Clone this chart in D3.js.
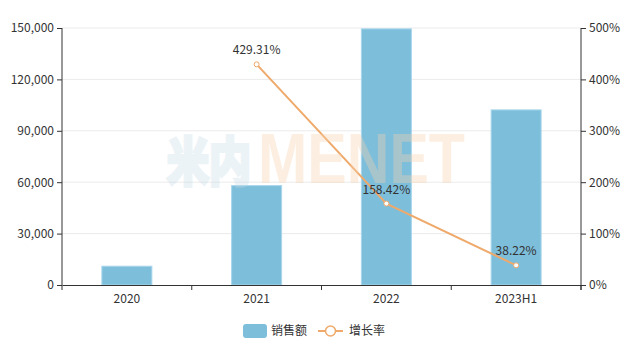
<!DOCTYPE html>
<html>
<head>
<meta charset="utf-8">
<script src="https://cdn.jsdelivr.net/npm/d3@7"></script>
<style>
  body { margin: 0; background: #fff; }
  svg { display: block; font-family: "Noto Sans CJK SC", "Noto Sans", sans-serif; }
</style>
</head>
<body>
<div id="chart"></div>
<script>
const categories = ["2020", "2021", "2022", "2023H1"];
const sales = [10960, 58010, 149500, 102200];
const growth = [null, 429.31, 158.42, 38.22];
const leftTicks = [0, 30000, 60000, 90000, 120000, 150000];
const rightTicks = [0, 100, 200, 300, 400, 500];

const width = 636, height = 355;
const margin = { top: 28, right: 55, bottom: 70, left: 62 };
const innerW = width - margin.left - margin.right;
const innerH = height - margin.top - margin.bottom;

const svg = d3.select("#chart").append("svg")
  .attr("width", width)
  .attr("height", height);

const g = svg.append("g").attr("transform", `translate(${margin.left},${margin.top})`);

const x = d3.scaleBand().domain(categories).range([0, innerW]);
const yL = d3.scaleLinear().domain([0, 150000]).range([innerH, 0]);
const yR = d3.scaleLinear().domain([0, 500]).range([innerH, 0]);

// grid lines
g.append("g")
  .selectAll("line")
  .data(leftTicks.slice(1))
  .join("line")
  .attr("x1", 0).attr("x2", innerW)
  .attr("y1", d => yL(d)).attr("y2", d => yL(d))
  .style("stroke", "#ebebeb")
  .style("stroke-width", 1);

// bars
const barW = 50;
g.append("g")
  .selectAll("rect")
  .data(sales)
  .join("rect")
  .attr("x", (d, i) => x(categories[i]) + x.bandwidth() / 2 - barW / 2)
  .attr("y", d => yL(d))
  .attr("width", barW)
  .attr("height", d => innerH - yL(d))
  .style("fill", "#7dbedb")
  .style("stroke", "#a8d6ec")
  .style("stroke-width", 1);

// axes
const fmt = d3.format(",");
const axL = g.append("g")
  .call(d3.axisLeft(yL).tickValues(leftTicks).tickFormat(fmt).tickSize(5).tickPadding(3));
const axR = g.append("g")
  .attr("transform", `translate(${innerW},0)`)
  .call(d3.axisRight(yR).tickValues(rightTicks).tickFormat(d => d + "%").tickSize(5).tickPadding(3));
const axB = g.append("g")
  .attr("transform", `translate(0,${innerH})`)
  .call(d3.axisBottom(x).tickSize(0).tickPadding(9));

// boundary ticks on the category axis
axB.append("g")
  .selectAll("line")
  .data(d3.range(categories.length + 1))
  .join("line")
  .attr("x1", i => i * x.step()).attr("x2", i => i * x.step())
  .attr("y1", 0).attr("y2", 5)
  .style("stroke", "#333");

[axL, axR, axB].forEach(a => {
  a.select(".domain").style("stroke", "#333");
  a.selectAll(".tick line").style("stroke", "#333");
  a.selectAll("text")
    .style("font-size", "12px")
    .style("fill", "#333")
    .style("font-family", "\"Noto Sans CJK SC\", \"Noto Sans\", sans-serif");
});
axL.select(".domain").attr("d", `M0,${innerH}V0`);
axR.select(".domain").attr("d", `M0,${innerH + 5}V0`);

// watermark (drawn under the line and labels)
const wm = svg.append("g").style("font-weight", "bold");
wm.append("text")
  .attr("x", 167).attr("y", 181)
  .attr("textLength", 84).attr("lengthAdjust", "spacingAndGlyphs")
  .style("font-family", "\"Noto Sans CJK SC\", sans-serif")
  .style("font-size", "52px")
  .style("fill", "#c3d8e6").style("stroke", "#c3d8e6").style("stroke-width", 4)
  .style("opacity", 0.3)
  .text("米内");
wm.append("text")
  .attr("x", 258).attr("y", 183)
  .attr("textLength", 207).attr("lengthAdjust", "spacingAndGlyphs")
  .style("font-family", "\"Liberation Sans\", Arial, sans-serif")
  .style("font-size", "70px")
  .style("fill", "#f9d2ae").style("opacity", 0.35)
  .text("MENET");

// growth line
const pts = growth.map((v, i) => ({ v, c: categories[i] })).filter(d => d.v !== null);
const line = d3.line()
  .x(d => x(d.c) + x.bandwidth() / 2)
  .y(d => yR(d.v));

g.append("path")
  .datum(pts)
  .attr("d", line)
  .style("fill", "none")
  .style("stroke", "#efa96a")
  .style("stroke-width", 2);

g.append("g")
  .selectAll("circle")
  .data(pts)
  .join("circle")
  .attr("cx", d => x(d.c) + x.bandwidth() / 2)
  .attr("cy", d => yR(d.v))
  .attr("r", 2.5)
  .style("fill", "#fff")
  .style("stroke", "#efa96a")
  .style("stroke-width", 1);

g.append("g")
  .selectAll("text")
  .data(pts)
  .join("text")
  .attr("x", d => x(d.c) + x.bandwidth() / 2)
  .attr("y", d => yR(d.v) - 10)
  .attr("text-anchor", "middle")
  .style("font-size", "12px")
  .style("fill", "#333")
  .text(d => d.v.toFixed(2) + "%");

// legend
const lg = svg.append("g");
lg.append("rect")
  .attr("x", 243).attr("y", 324).attr("width", 24).attr("height", 14).attr("rx", 3)
  .style("fill", "#7dbedb");
lg.append("text")
  .attr("x", 271).attr("y", 331).attr("dy", "0.35em")
  .style("font-size", "12px").style("fill", "#333")
  .text("销售额");
lg.append("line")
  .attr("x1", 318).attr("x2", 343).attr("y1", 331).attr("y2", 331)
  .style("stroke", "#efa96a").style("stroke-width", 2);
lg.append("circle")
  .attr("cx", 330.5).attr("cy", 331).attr("r", 5)
  .style("fill", "#fff").style("stroke", "#efa96a").style("stroke-width", 1.5);
lg.append("text")
  .attr("x", 349).attr("y", 331).attr("dy", "0.35em")
  .style("font-size", "12px").style("fill", "#333")
  .text("增长率");
</script>
</body>
</html>
